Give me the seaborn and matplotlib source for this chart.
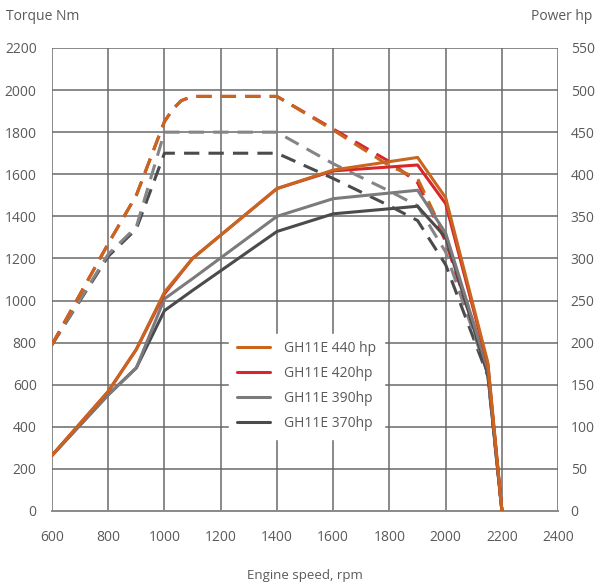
import pandas as pd
import numpy as np
import matplotlib
matplotlib.use("Agg")
import matplotlib.pyplot as plt
import seaborn as sns

# torque curves (Nm), dashed, left axis
rpm_t = [600, 700, 800, 900, 1000, 1030, 1060, 1100, 1400, 1600, 1800, 1900, 2000, 2150, 2200]
torque_440 = [790, 1030, 1270, 1500, 1850, 1910, 1950, 1970, 1970, 1810, 1640, 1580, 1300, 680, 0]
torque_420 = [790, 1030, 1270, 1500, 1850, 1910, 1950, 1970, 1970, 1815, 1660, 1560, 1280, 670, 0]
rpm_t2 = [600, 800, 900, 1000, 1400, 1600, 1800, 1900, 2000, 2150, 2200]
torque_390 = [790, 1220, 1350, 1800, 1800, 1650, 1520, 1450, 1230, 650, 0]
torque_370 = [790, 1210, 1340, 1700, 1700, 1580, 1450, 1380, 1170, 640, 0]

# power curves (hp), solid, right axis
rpm_p = [600, 800, 900, 1000, 1100, 1400, 1600, 1900, 2000, 2150, 2200]
power_440 = [66, 142, 192, 260, 300, 383, 405, 420, 372, 176, 0]
power_420 = [66, 142, 192, 258, 300, 383, 404, 411, 365, 174, 0]
power_390 = [66, 138, 170, 252, 276, 350, 371, 381, 330, 168, 0]
power_370 = [66, 138, 170, 238, 262, 332, 353, 362, 325, 162, 0]

labels = ["GH11E 440 hp", "GH11E 420hp", "GH11E 390hp", "GH11E 370hp"]
colors = ["#C8661F", "#D9262C", "#7B7B7D", "#4B4B4D"]

sns.set_style("white")
plt.rcParams['font.family'] = ['Open Sans', 'DejaVu Sans']
txt = "#5a5a5a"

fig = plt.figure(figsize=(5.97, 5.83), dpi=100)
ax = fig.add_axes([0.087, 0.1235, 0.848, 0.7942])
ax2 = ax.twinx()

torques = [(rpm_t2, torque_370, colors[3]), (rpm_t2, torque_390, "#858587"),
           (rpm_t, torque_420, colors[1]), (rpm_t, torque_440, colors[0])]
for xs, ys, c in torques:
    sns.lineplot(x=xs, y=ys, ax=ax, color=c, linewidth=2.2, dashes=False,
                 sort=False, estimator=None)
for line in ax.get_lines():
    line.set_dashes((5, 3))

powers = [(power_370, colors[3], labels[3]), (power_390, colors[2], labels[2]),
          (power_420, colors[1], labels[1]), (power_440, colors[0], labels[0])]
for ys, c, lab in powers:
    sns.lineplot(x=rpm_p, y=ys, ax=ax2, color=c, linewidth=2.2, label=lab,
                 sort=False, estimator=None)

ax.set_xlim(600, 2400)
ax.set_ylim(0, 2200)
ax2.set_ylim(0, 550)
ax.set_xticks(np.arange(600, 2401, 200))
ax.set_yticks(np.arange(0, 2201, 200))
ax2.set_yticks(np.arange(0, 551, 50))

ax.grid(True, color="#6a6a6a", linewidth=1.1)
ax.set_axisbelow(True)
for a in (ax, ax2):
    for s in a.spines.values():
        s.set_visible(False)
ax.spines['bottom'].set_visible(True)
ax.spines['bottom'].set_color("#8a8a8a")
ax.spines['bottom'].set_linewidth(1.4)

ax.tick_params(axis='both', length=0, labelsize=10, labelcolor=txt)
ax.tick_params(axis='x', pad=14)
ax.tick_params(axis='y', pad=11)
ax2.tick_params(axis='y', length=0, labelsize=10, labelcolor=txt, pad=9)
ax.set_xlabel("Engine speed, rpm", fontsize=9.5, color=txt, labelpad=17)
ax.set_ylabel("")
ax2.set_ylabel("")

fig.text(0.01, 0.972, "Torque Nm", fontsize=10, color=txt, ha='left', va='center')
fig.text(0.993, 0.972, "Power hp", fontsize=10, color=txt, ha='right', va='center')

h, l = ax2.get_legend_handles_labels()
leg = ax2.legend(h[::-1], l[::-1], loc='upper left', bbox_to_anchor=(0.336, 0.398),
                 frameon=True, facecolor='white', edgecolor='white', framealpha=1,
                 fontsize=10, handlelength=2.4, handletextpad=1.0, labelspacing=0.72,
                 borderpad=0.55, fancybox=False)
for t in leg.get_texts():
    t.set_color(txt)

fig.savefig("out.png", dpi=100)
